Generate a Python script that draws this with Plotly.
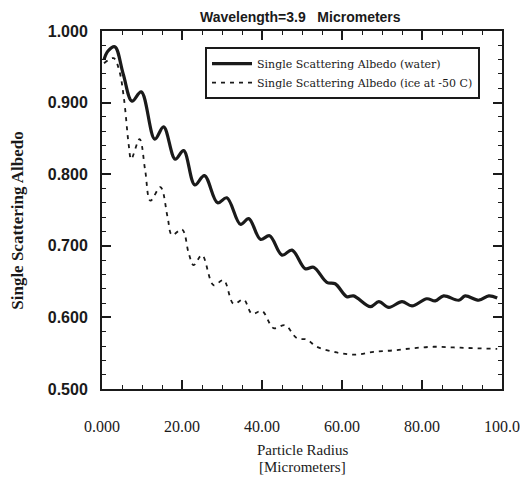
import plotly.graph_objects as go

# Data
r_water = [0.5, 1.5, 3.2, 5.3, 7.5, 9.8, 13.2, 15.4, 18.3, 20.4, 23.2, 25.6, 28.9, 31.2,
           34.6, 36.7, 39.6, 41.9, 45.0, 47.5, 50.8, 52.9, 56.2, 58.3, 61.2, 62.9, 67.1,
           69.2, 71.7, 75.0, 77.5, 81.2, 83.3, 85.4, 89.2, 90.8, 94.2, 96.7, 98.8]
v_water = [0.960, 0.972, 0.978, 0.940, 0.902, 0.915, 0.849, 0.866, 0.821, 0.833, 0.785,
           0.798, 0.760, 0.767, 0.730, 0.738, 0.709, 0.714, 0.687, 0.694, 0.668, 0.670,
           0.649, 0.647, 0.629, 0.630, 0.615, 0.622, 0.614, 0.622, 0.616, 0.626, 0.623,
           0.630, 0.624, 0.630, 0.624, 0.630, 0.627]

r_ice = [0.5, 2.9, 4.3, 5.5, 6.7, 7.3, 9.4, 10.8, 12.1, 14.6, 16.4, 17.5, 20.0, 21.7,
         22.9, 25.0, 27.9, 30.4, 32.9, 35.4, 37.5, 40.0, 42.9, 45.8, 48.7, 51.2, 53.7,
         58.7, 63.3, 67.9, 72.9, 77.9, 82.9, 87.9, 92.9, 98.8]
v_ice = [0.955, 0.962, 0.945, 0.905, 0.840, 0.821, 0.849, 0.805, 0.763, 0.782, 0.740,
         0.715, 0.723, 0.689, 0.673, 0.687, 0.645, 0.652, 0.619, 0.625, 0.605, 0.609,
         0.585, 0.589, 0.571, 0.569, 0.559, 0.551, 0.548, 0.552, 0.554, 0.557, 0.559,
         0.558, 0.557, 0.556]

x_tickvals = [0, 20, 40, 60, 80, 100]
x_ticktext = ["0.000", "20.00", "40.00", "60.00", "80.00", "100.0"]
y_tickvals = [0.5, 0.6, 0.7, 0.8, 0.9, 1.0]
y_ticktext = ["0.500", "0.600", "0.700", "0.800", "0.900", "1.000"]

serif = "Liberation Serif"
sans = "Liberation Sans"
ink = "#1a1a1a"

fig = go.Figure()
fig.add_trace(go.Scatter(
    x=r_water, y=v_water, mode="lines", line_shape="spline",
    line=dict(color=ink, width=3.2),
    name="Single Scattering Albedo (water)"))
fig.add_trace(go.Scatter(
    x=r_ice, y=v_ice, mode="lines", line_shape="spline",
    line=dict(color=ink, width=1.8, dash="4px,5px"),
    name="Single Scattering Albedo (ice at -50 C)"))

fig.update_layout(
    width=520, height=482,
    margin=dict(l=102, r=18, t=31, b=93, autoexpand=False),
    paper_bgcolor="white", plot_bgcolor="white",
    showlegend=True,
    legend=dict(x=0.2575, y=0.955, xanchor="left", yanchor="top",
                bgcolor="white", bordercolor=ink, borderwidth=2,
                font=dict(family="DejaVu Serif", size=11, color=ink),
                tracegroupgap=0, itemwidth=40),
    annotations=[
        dict(text="Wavelength=3.9\u00a0\u00a0\u00a0Micrometers", x=0.497, y=1.0,
             xref="paper", yref="paper", xanchor="center", yanchor="middle",
             yshift=14, showarrow=False,
             font=dict(family=sans, size=14, color=ink, weight="bold")),
        dict(text="Particle Radius", x=0.5, y=0.0,
             xref="paper", yref="paper", xanchor="center", yanchor="middle",
             yshift=-61, showarrow=False,
             font=dict(family=serif, size=15, color=ink)),
        dict(text="[Micrometers]", x=0.5, y=0.0,
             xref="paper", yref="paper", xanchor="center", yanchor="middle",
             yshift=-78, showarrow=False,
             font=dict(family=serif, size=15, color=ink)),
        dict(text="Single Scattering Albedo", x=0.0, y=0.47,
             xref="paper", yref="paper", xanchor="center", yanchor="middle",
             xshift=-84, textangle=-90, showarrow=False,
             font=dict(family=serif, size=17, color=ink, weight="bold")),
    ],
)

fig.update_xaxes(
    range=[0, 100], tickvals=x_tickvals, ticktext=x_ticktext,
    ticks="inside", ticklen=9, tickwidth=1.5, tickcolor=ink,
    minor=dict(dtick=5, ticks="inside", ticklen=4, tickwidth=1.2, tickcolor=ink),
    showline=True, linecolor=ink, linewidth=2, mirror="allticks",
    showgrid=False, zeroline=False, automargin=False,
    tickfont=dict(family=serif, size=16, color=ink),
    ticklabelstandoff=22,
)
fig.update_yaxes(
    range=[0.5, 1.0], tickvals=y_tickvals, ticktext=y_ticktext,
    ticks="inside", ticklen=9, tickwidth=1.5, tickcolor=ink,
    minor=dict(dtick=0.02, ticks="inside", ticklen=4, tickwidth=1.2, tickcolor=ink),
    showline=True, linecolor=ink, linewidth=2, mirror="allticks",
    showgrid=False, zeroline=False, automargin=False,
    tickfont=dict(family=sans, size=16, color=ink, weight="bold"),
    ticklabelstandoff=9,
)

# remove the browser's default 8px body margin so the figure fills the window
fig.write_html("out.html",
               config={"displayModeBar": False},
               post_script="document.body.style.margin='0px';document.body.style.overflow='hidden';")
